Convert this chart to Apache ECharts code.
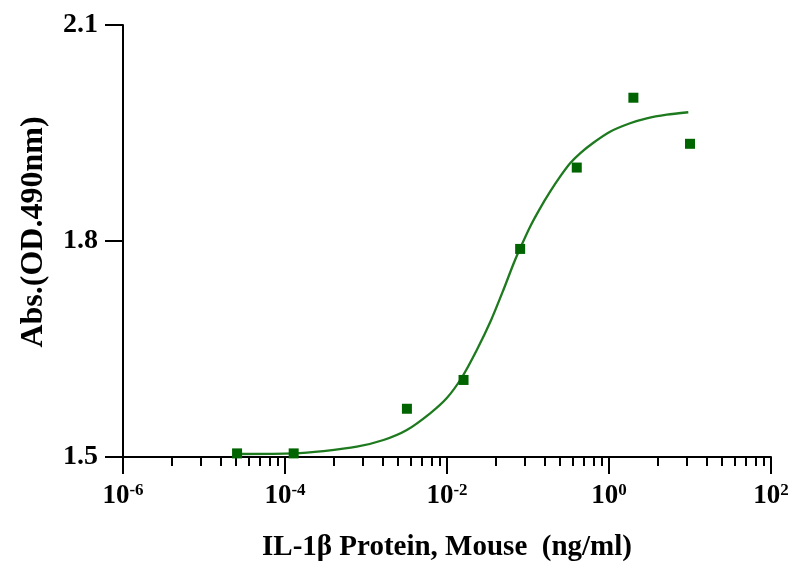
<!DOCTYPE html>
<html>
<head>
<meta charset="utf-8">
<script src="https://cdn.jsdelivr.net/npm/echarts@6/dist/echarts.min.js"></script>
<style>html,body{margin:0;padding:0;background:#fff;}#chart{width:802px;height:575px;}</style>
</head>
<body>
<div id="chart"></div>
<script>
// Measured points: concentration (ng/ml) and absorbance
var concentrations = [0.0000256, 0.000128, 0.0032, 0.016, 0.08, 0.4, 2, 10];
var absorbance = [1.505, 1.505, 1.567, 1.607, 1.789, 1.902, 1.999, 1.935];

// Fitted curve: log10(concentration) and absorbance
var curveLogConc = [-4.586, -3.895, -3.525, -3.113, -2.784, -2.496, -2.208, -2.002, -1.817, -1.632, -1.455, -1.304, -1.180, -1.097, -0.974, -0.851, -0.727, -0.604, -0.480, -0.357, -0.193, 0.013, 0.260, 0.466, 0.713, 0.979];
var curveAbs = [1.5042, 1.5051, 1.5083, 1.5143, 1.5236, 1.5375, 1.5607, 1.5819, 1.6104, 1.6486, 1.6903, 1.7319, 1.7681, 1.7899, 1.8199, 1.8454, 1.8685, 1.8893, 1.9079, 1.9218, 1.9365, 1.9518, 1.9635, 1.9704, 1.9754, 1.9788];

// Axis ticks
var xTickExponents = [-6, -4, -2, 0, 2];
var yTicks = [1.5, 1.8, 2.1];
var minorFactors = [2, 3, 4, 5, 6, 7, 8, 9];

var xTitle = 'IL-1\u03b2 Protein, Mouse  (ng/ml)';
var yTitle = 'Abs.(OD.490nm)';

var FONT = "'Liberation Serif', 'Times New Roman', serif";
var majorStep = xTickExponents[1] - xTickExponents[0];
var minorTicks = [];
for (var i = 0; i < xTickExponents.length - 1; i++) {
  for (var j = 0; j < minorFactors.length; j++) {
    minorTicks.push(xTickExponents[i] + majorStep * Math.log10(minorFactors[j]));
  }
}

var pointData = concentrations.map(function (c, k) { return [Math.log10(c), absorbance[k]]; });
var curveData = curveLogConc.map(function (x, k) { return [x, curveAbs[k]]; });

var chart = echarts.init(document.getElementById('chart'));
chart.setOption({
  backgroundColor: '#ffffff',
  animation: false,
  grid: { left: 123, right: 31, top: 25, bottom: 118, containLabel: false, outerBoundsMode: 'none' },
  xAxis: [{
    type: 'value',
    min: xTickExponents[0],
    max: xTickExponents[xTickExponents.length - 1],
    interval: majorStep,
    position: 'bottom',
    axisLine: { show: true, onZero: false, lineStyle: { color: '#000', width: 2 } },
    axisTick: { show: true, length: 17, lineStyle: { color: '#000', width: 2 } },
    splitLine: { show: false },
    axisLabel: {
      margin: 25,
      formatter: function (v) { return '{b|10}{s|' + v + '}'; },
      rich: {
        b: { fontFamily: FONT, fontWeight: 'bold', fontSize: 27, lineHeight: 28, color: '#000' },
        s: { fontFamily: FONT, fontWeight: 'bold', fontSize: 17, lineHeight: 17, verticalAlign: 'top', color: '#000' }
      }
    },
    name: xTitle,
    nameLocation: 'middle',
    nameGap: 76,
    nameTextStyle: { fontFamily: FONT, fontWeight: 'bold', fontSize: 29, color: '#000', verticalAlign: 'top' }
  }, {
    type: 'value',
    min: xTickExponents[0],
    max: xTickExponents[xTickExponents.length - 1],
    position: 'bottom',
    axisLine: { show: false, onZero: false },
    axisTick: { show: true, length: 9, customValues: minorTicks, lineStyle: { color: '#000', width: 2 } },
    axisLabel: { show: false },
    splitLine: { show: false }
  }],
  yAxis: {
    type: 'value',
    min: yTicks[0],
    max: yTicks[yTicks.length - 1],
    interval: yTicks[1] - yTicks[0],
    axisLine: { show: true, onZero: false, lineStyle: { color: '#000', width: 2 } },
    axisTick: { show: true, length: 18, lineStyle: { color: '#000', width: 2 } },
    splitLine: { show: false },
    axisLabel: {
      margin: 25,
      fontFamily: FONT, fontWeight: 'bold', fontSize: 28, color: '#000',
      formatter: function (v) { return v.toFixed(1); }
    },
    name: yTitle,
    nameLocation: 'middle',
    nameGap: 73,
    nameRotate: 90,
    nameTextStyle: { fontFamily: FONT, fontWeight: 'bold', fontSize: 32, color: '#000', padding: [0, 0, 0, 18] }
  },
  series: [{
    type: 'line',
    data: curveData,
    smooth: 0.25,
    showSymbol: false,
    symbol: 'none',
    lineStyle: { color: '#1e7a1e', width: 2.3 },
    z: 2
  }, {
    type: 'scatter',
    data: pointData,
    symbol: 'rect',
    symbolSize: 10,
    itemStyle: { color: '#006400', opacity: 1 },
    z: 3
  }]
});
</script>
</body>
</html>
